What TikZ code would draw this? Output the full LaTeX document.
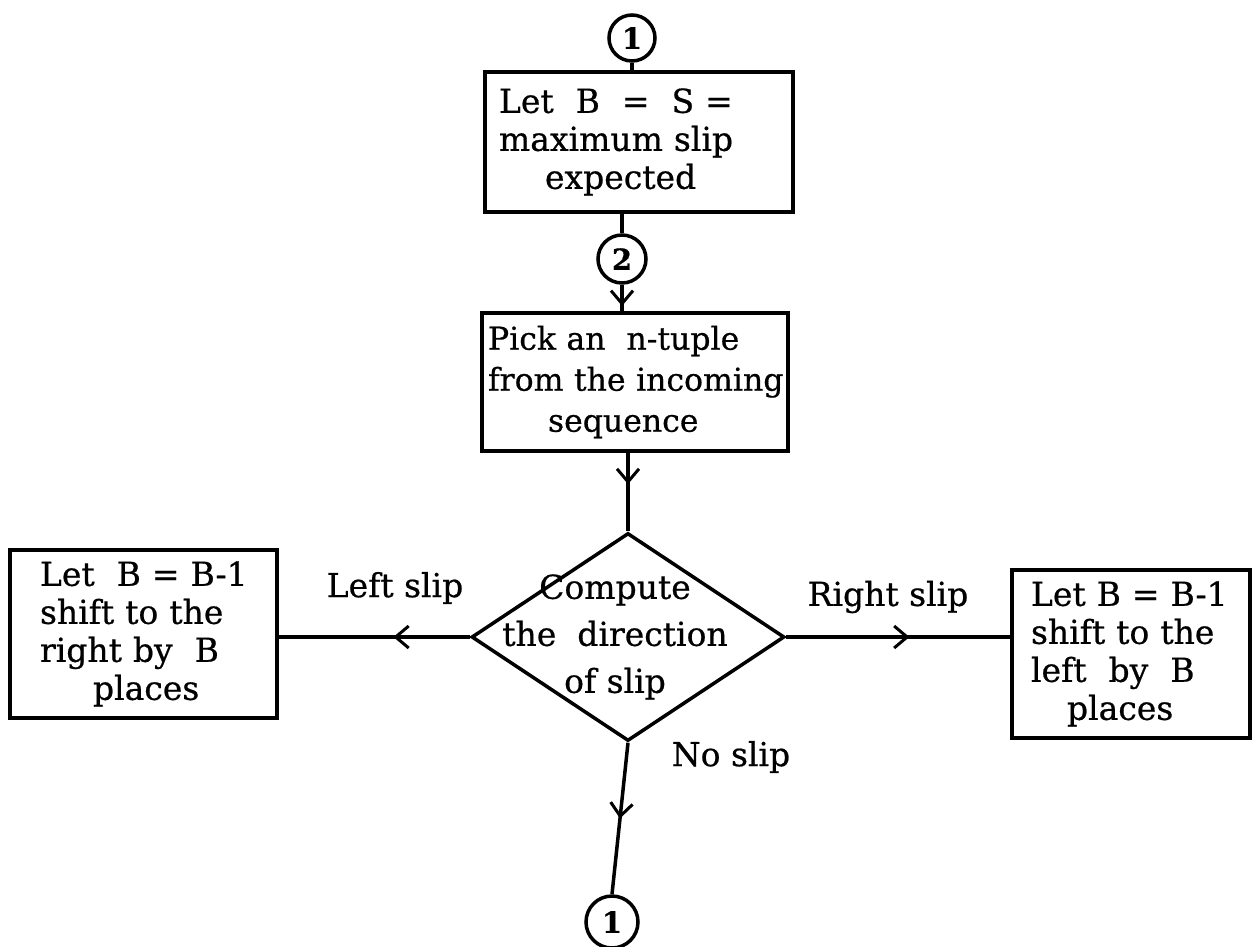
\documentclass[tikz,border=0pt]{standalone}
\usepackage{fontspec}
\setmainfont[FakeBold=0.6]{DejaVu Serif}
\usetikzlibrary{shapes.geometric,arrows.meta,decorations.markings}
\tikzset{
  txt/.style={font=\fontsize{33}{38}\selectfont},
  procbox/.style={draw, line width=3.5pt, rectangle, align=left, inner ysep=0pt, txt},
  decision/.style={draw, line width=3.5pt, diamond, inner sep=0pt},
  connector/.style={draw, line width=3.5pt, circle, inner sep=0pt, font=\fontsize{29}{29}\selectfont\bfseries},
  flow/.style={line width=3.5pt},
  midarrow/.style={decoration={markings, mark=at position #1 with {\arrow{Straight Barb[length=13pt,width=22pt,line width=3pt]}}}, postaction=decorate},
}
\begin{document}
\begin{tikzpicture}[x=1pt,y=-1pt]
\fill[white] (0,0) rectangle (1259,946);
\useasboundingbox (0,0) rectangle (1259,946);

% connectors (circles)
\node[connector, minimum size=46pt] (c1) at (632,38) {1};
\node[connector, minimum size=48pt] (c2) at (622,259) {2};
\node[connector, minimum size=52pt] (c3) at (612,922) {1};

% process boxes
\node[procbox, text width=280pt, inner xsep=14pt, minimum height=140pt] (b1) at (639,142)
  {\mbox{Let\ \ B\ \ =\ \ S =}\\\mbox{maximum slip}\\\hspace*{46pt}expected};
\node[procbox, text width=294pt, inner xsep=6pt, minimum height=138pt, font=\fontsize{31.5}{41}\selectfont] (b2) at (635,382)
  {\mbox{Pick an\ \ n-tuple}\\\mbox{from the incoming}\\\hspace*{60pt}sequence};
\node[procbox, text width=207pt, inner xsep=30pt, minimum height=168pt] (lb) at (143.5,634)
  {\mbox{Let\ \ B = B-1}\\\mbox{shift to the}\\\mbox{right by\ \ B}\\\hspace*{53pt}places};
\node[procbox, text width=200pt, inner xsep=19pt, minimum height=168pt] (rb) at (1131,654)
  {\mbox{Let B = B-1}\\\mbox{shift to the}\\\mbox{left\ \ by\ \ B}\\\hspace*{36pt}places};

% decision
\node[decision, minimum width=313pt, minimum height=208pt] (d) at (628,637) {};
\node[align=center, font=\fontsize{33}{47}\selectfont] (dt) at (615,637)
  {Compute\\the\ \ direction\\of slip};

% branch labels
\node[txt] (ll) at (395,588) {Left slip};
\node[txt] (rl) at (888,597) {Right slip};
\node[txt] (nl) at (731,757) {No slip};

% flow lines
\draw[flow] (c1.south) -- (c1.south |- b1.north);
\draw[flow] (c2.north |- b1.south) -- (c2.north);
\draw[flow, midarrow=0.8] (c2.south) -- (c2.south |- b2.north);
\draw[flow, midarrow=0.4] (d.north |- b2.south) -- (d.north);
\draw[flow, midarrow=0.4] (d.west) -- (lb.east |- d.west);
\draw[flow, midarrow=0.55] (d.east) -- (rb.west |- d.east);
\draw[flow, midarrow=0.5] (d.south) -- (c3.north);
\end{tikzpicture}
\end{document}
